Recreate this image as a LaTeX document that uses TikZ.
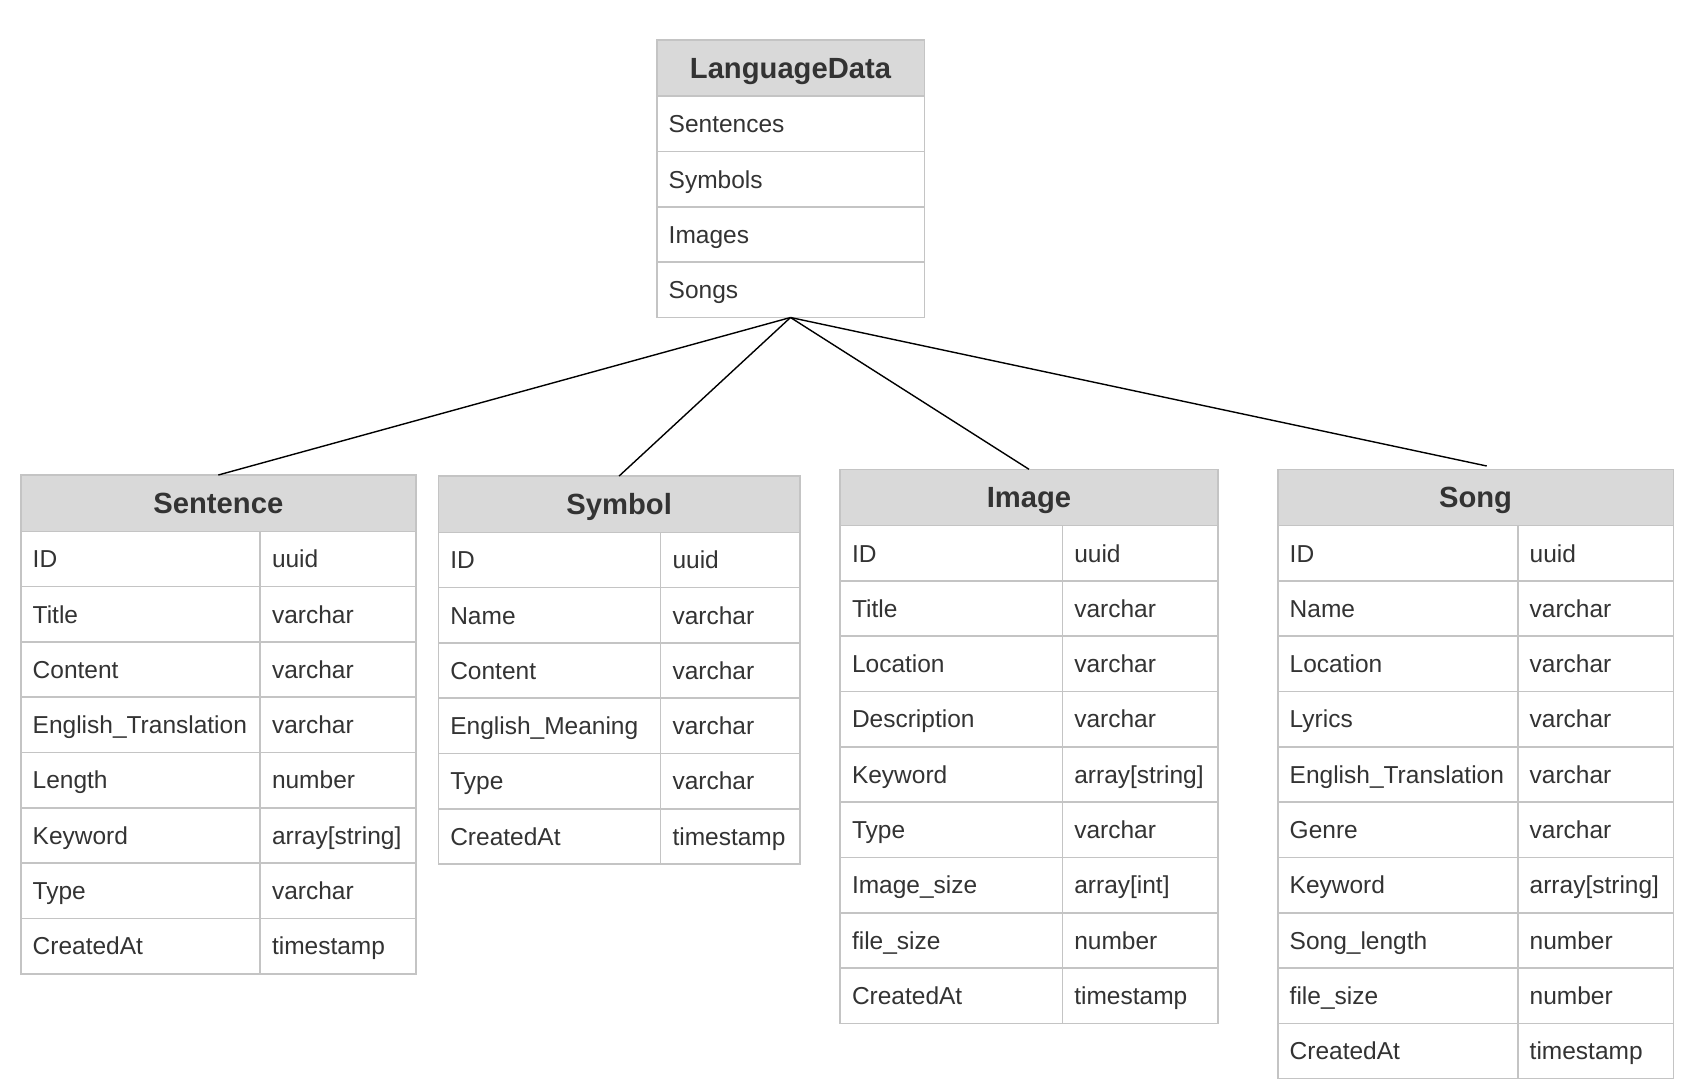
\documentclass[tikz,border=0pt]{standalone}
\usepackage{fontspec}
\setmainfont{Liberation Sans}
\usepackage{xcolor}
\usepackage{tikz}
\usetikzlibrary{positioning,calc}
\definecolor{headgray}{HTML}{D9D9D9}
\definecolor{gridgray}{HTML}{C4C4C4}
\definecolor{textgray}{HTML}{333333}
\hyphenpenalty=10000
\exhyphenpenalty=10000

\tikzset{
    tblhead/.style={draw=gridgray, fill=headgray, line width=0.8pt, anchor=north west,
        inner sep=0pt, outer sep=0pt, minimum height=28.15pt, text=textgray,
        font=\fontsize{14.6}{17}\selectfont\bfseries, text height=10.45pt, text depth=0pt},
    tblcell/.style={draw=gridgray, fill=white, line width=0.8pt, anchor=north west,
        inner xsep=6pt, inner ysep=0pt, outer sep=0pt, minimum height=27.65pt,
        text width=#1, align=left, text=textgray,
        font=\fontsize{12.25}{14}\selectfont, text height=8.8pt, text depth=0pt},
    link/.style={draw=black, line width=0.7pt}
}

\begin{document}
\begin{tikzpicture}[x=1pt,y=-1pt]
    \useasboundingbox (0,0) rectangle (846,543);

    % LanguageData (one column)
    \node[tblhead, minimum width=133.8pt] (langdata) at (328.35,20) {LanguageData};
    \foreach \f [count=\i] in {Sentences, Symbols, Images, Songs} {
        \node[tblcell=121.8pt] (langdata-\i) at (328.35, {48.15+(\i-1)*27.65}) {\f};
    }

    % Sentence
    \node[tblhead, minimum width=197.65pt] (sentence) at (10.35,237.5) {Sentence};
    \foreach \f/\t [count=\i] in {ID/uuid, Title/varchar, Content/varchar, English\_Translation/varchar, Length/number, Keyword/array[string], Type/varchar, CreatedAt/timestamp} {
        \node[tblcell=107.65pt] (sentence-f\i) at (10.35, {265.65+(\i-1)*27.65}) {\f};
        \node[tblcell=66pt] (sentence-t\i) at (130, {265.65+(\i-1)*27.65}) {\t};
    }

    % Symbol
    \node[tblhead, minimum width=180.85pt] (symbol) at (219.15,238) {Symbol};
    \foreach \f/\t [count=\i] in {ID/uuid, Name/varchar, Content/varchar, English\_Meaning/varchar, Type/varchar, CreatedAt/timestamp} {
        \node[tblcell=99.1pt] (symbol-f\i) at (219.15, {266.15+(\i-1)*27.65}) {\f};
        \node[tblcell=57.75pt] (symbol-t\i) at (330.25, {266.15+(\i-1)*27.65}) {\t};
    }

    % Image
    \node[tblhead, minimum width=189pt] (image) at (420,234.65) {Image};
    \foreach \f/\t [count=\i] in {ID/uuid, Title/varchar, Location/varchar, Description/varchar, Keyword/array[string], Type/varchar, Image\_size/array[int], file\_size/number, CreatedAt/timestamp} {
        \node[tblcell=99.15pt] (image-f\i) at (420, {262.8+(\i-1)*27.65}) {\f};
        \node[tblcell=65.85pt] (image-t\i) at (531.15, {262.8+(\i-1)*27.65}) {\t};
    }

    % Song
    \node[tblhead, minimum width=197.8pt] (song) at (638.85,234.65) {Song};
    \foreach \f/\t [count=\i] in {ID/uuid, Name/varchar, Location/varchar, Lyrics/varchar, English\_Translation/varchar, Genre/varchar, Keyword/array[string], Song\_length/number, file\_size/number, CreatedAt/timestamp} {
        \node[tblcell=108pt] (song-f\i) at (638.85, {262.8+(\i-1)*27.65}) {\f};
        \node[tblcell=65.8pt] (song-t\i) at (758.85, {262.8+(\i-1)*27.65}) {\t};
    }

    % links from LanguageData
    \coordinate (songtop) at (743.35,233);
    \draw[link] (langdata-4.south) -- (sentence.north);
    \draw[link] (langdata-4.south) -- (symbol.north);
    \draw[link] (langdata-4.south) -- (image.north);
    \draw[link] (langdata-4.south) -- (songtop);
\end{tikzpicture}
\end{document}
